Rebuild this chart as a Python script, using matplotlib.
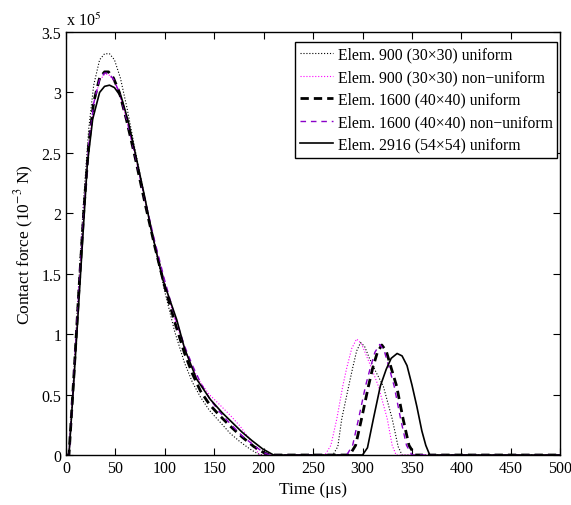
import numpy as np
import matplotlib
matplotlib.use("Agg")
import matplotlib.pyplot as plt

plt.rcParams['font.family'] = ['Liberation Serif', 'DejaVu Serif']
plt.rcParams['mathtext.fontset'] = 'stix'

# Elem. 900 (30x30) uniform
t1 = [0, 3, 8, 13, 18, 23, 28, 34, 39, 44, 49, 55, 62, 70, 80, 90, 100, 110, 120, 128,
      136, 145, 155, 166, 176, 186, 194, 200,
      270, 275, 279, 286, 290, 294, 298, 302, 307, 314, 321, 330, 336, 340, 500]
f1 = [0, 0, 0.70, 1.44, 2.13, 2.70, 3.06, 3.27, 3.32, 3.32, 3.27, 3.12, 2.86, 2.52, 2.12,
      1.72, 1.35, 1.02, 0.76, 0.60, 0.48, 0.37, 0.28, 0.18, 0.11, 0.05, 0.01, 0,
      0, 0.07, 0.30, 0.57, 0.72, 0.86, 0.93, 0.90, 0.80, 0.68, 0.57, 0.30, 0.07, 0, 0]

# Elem. 900 (30x30) non-uniform
t2 = [0, 3, 8, 13, 18, 23, 28, 34, 39, 43, 48, 54, 61, 70, 80, 90, 100, 110, 120, 128,
      136, 145, 155, 166, 176, 184, 190, 196,
      262, 268, 274, 280, 284, 289, 294, 299, 304, 310, 316, 325, 330, 334, 500]
f2 = [0, 0, 0.66, 1.35, 2.00, 2.55, 2.90, 3.10, 3.15, 3.15, 3.10, 2.99, 2.78, 2.48, 2.10,
      1.74, 1.42, 1.12, 0.88, 0.72, 0.60, 0.50, 0.42, 0.33, 0.24, 0.15, 0.07, 0,
      0, 0.08, 0.30, 0.57, 0.72, 0.88, 0.96, 0.92, 0.82, 0.70, 0.57, 0.30, 0.08, 0, 0]

# Elem. 1600 (40x40) uniform
t3 = [0, 3, 8, 13, 18, 23, 28, 34, 39, 43, 48, 54, 61, 70, 80, 90, 100, 110, 120, 128,
      136, 145, 155, 166, 178, 190, 200, 206,
      287, 293, 299, 306, 310, 315, 319.5, 324, 329, 334.5, 341, 347, 353, 500]
f3 = [0, 0, 0.66, 1.36, 2.02, 2.57, 2.92, 3.12, 3.17, 3.17, 3.12, 3.00, 2.78, 2.46, 2.08,
      1.72, 1.39, 1.10, 0.84, 0.67, 0.53, 0.42, 0.33, 0.24, 0.15, 0.07, 0.02, 0,
      0, 0.08, 0.30, 0.57, 0.71, 0.85, 0.91, 0.86, 0.72, 0.57, 0.30, 0.08, 0, 0]

# Elem. 1600 (40x40) non-uniform
t4 = [0, 3, 8, 13, 18, 23, 28, 34, 39, 43, 48, 54, 61, 70, 80, 90, 100, 110, 120, 128,
      136, 145, 155, 166, 178, 190, 200, 206,
      284, 290, 296, 303, 307.5, 312.5, 317.5, 322, 327, 332, 338.5, 344.5, 350, 500]
f4 = [0, 0, 0.65, 1.35, 2.00, 2.56, 2.91, 3.11, 3.16, 3.16, 3.11, 3.00, 2.79, 2.48, 2.11,
      1.76, 1.44, 1.15, 0.90, 0.74, 0.60, 0.47, 0.36, 0.26, 0.16, 0.08, 0.02, 0,
      0, 0.08, 0.30, 0.57, 0.71, 0.85, 0.915, 0.86, 0.72, 0.57, 0.30, 0.08, 0, 0]

# Elem. 2916 (54x54) uniform
t5 = [0, 3, 8, 13, 17.5, 21.5, 27, 34, 39, 44, 49, 56, 63, 70, 80, 86, 98, 112, 120, 132,
      146, 158, 168, 178, 188, 199, 210,
      300, 305, 311, 318, 324, 329, 335, 340, 345, 350, 355, 360, 364, 368, 500]
f5 = [0, 0, 0.62, 1.27, 1.87, 2.40, 2.78, 3.00, 3.05, 3.06, 3.04, 2.96, 2.76, 2.50, 2.12,
      1.87, 1.45, 1.12, 0.88, 0.63, 0.46, 0.35, 0.27, 0.19, 0.12, 0.05, 0,
      0, 0.06, 0.30, 0.57, 0.71, 0.80, 0.84, 0.82, 0.74, 0.58, 0.40, 0.20, 0.08, 0, 0]

labels = ["Elem. 900 (30\u00d730) uniform",
          "Elem. 900 (30\u00d730) non\u2212uniform",
          "Elem. 1600 (40\u00d740) uniform",
          "Elem. 1600 (40\u00d740) non\u2212uniform",
          "Elem. 2916 (54\u00d754) uniform"]

fig = plt.figure(figsize=(5.71, 5.06), dpi=100)
ax = fig.add_axes([0.1156, 0.0988, 0.8655, 0.836])

ax.plot(t1, f1, color='k', linestyle=':', linewidth=0.8, label=labels[0])
ax.plot(t2, f2, color='#ff00ff', linestyle=':', linewidth=0.8, label=labels[1])
ax.plot(t3, f3, color='k', linestyle=(0, (3, 1.8)), linewidth=2.0, label=labels[2])
ax.plot(t4, f4, color='#8a00c8', linestyle=(0, (4, 3.5)), linewidth=1.0, label=labels[3])
ax.plot(t5, f5, color='k', linestyle='-', linewidth=1.2, label=labels[4])

ax.set_xlim(0, 500)
ax.set_ylim(0, 3.5)
ax.set_xticks(np.arange(0, 501, 50))
yt = np.arange(0, 3.51, 0.5)
ax.set_yticks(yt)
ax.set_yticklabels(["%g" % v for v in yt])
ax.tick_params(direction='in', top=True, right=True, labelsize=11.5, length=5, width=0.8)
for s in ax.spines.values():
    s.set_linewidth(1.0)

ax.set_xlabel("Time (\u03bcs)", fontsize=12.5)
ax.set_ylabel("Contact force (10$^{-3}$ N)", fontsize=12.5, labelpad=4)
ax.text(0.0, 1.008, "x 10$^5$", transform=ax.transAxes, fontsize=11.5, ha='left', va='bottom')

leg = ax.legend(loc='upper right', bbox_to_anchor=(0.994, 0.977), borderaxespad=0,
                fontsize=11.3, handlelength=2.1, fancybox=False, edgecolor='k',
                framealpha=1, labelspacing=0.42, handletextpad=0.3, borderpad=0.3)
leg.get_frame().set_linewidth(1.0)

fig.savefig("out.png", dpi=100)
